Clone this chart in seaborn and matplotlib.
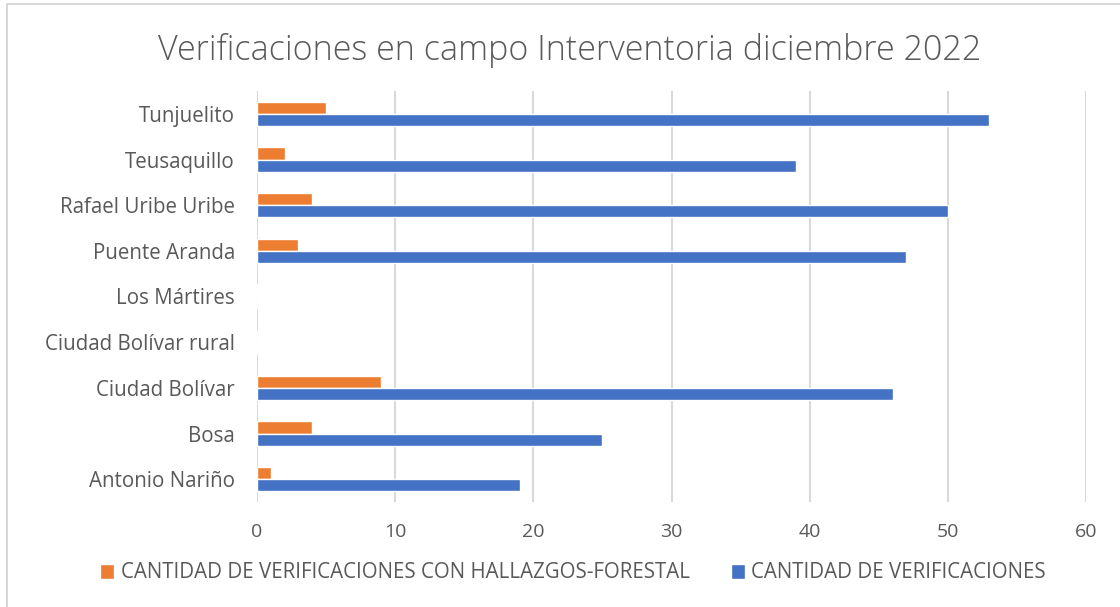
import matplotlib
matplotlib.use("Agg")
import matplotlib.pyplot as plt
import seaborn as sns
import pandas as pd
from matplotlib.patches import Rectangle

categories = ["Tunjuelito", "Teusaquillo", "Rafael Uribe Uribe", "Puente Aranda",
              "Los Mártires", "Ciudad Bolívar rural", "Ciudad Bolívar", "Bosa",
              "Antonio Nariño"]
hallazgos = [5, 2, 4, 3, 0, 0, 9, 4, 1]
verificaciones = [53, 39, 50, 47, 0, 0, 46, 25, 19]
series_names = ["CANTIDAD DE VERIFICACIONES CON HALLAZGOS-FORESTAL",
                "CANTIDAD DE VERIFICACIONES"]
colors = ["#ED7D31", "#4472C4"]
xticks = [0, 10, 20, 30, 40, 50, 60]
title = "Verificaciones en campo Interventoria diciembre 2022"

df = pd.DataFrame({
    "Localidad": categories * 2,
    "Valor": hallazgos + verificaciones,
    "Serie": [series_names[0]] * len(categories) + [series_names[1]] * len(categories),
})

sns.set_theme(style="white")
plt.rcParams["font.family"] = ["Open Sans", "DejaVu Sans"]

W, H = 1120, 607
fig = plt.figure(figsize=(W / 100, H / 100), dpi=100)
ax = fig.add_axes([257 / W, 1 - 502 / H, (1086 - 257) / W, (502 - 91) / H])

sns.barplot(data=df, y="Localidad", x="Valor", hue="Serie", order=categories,
            hue_order=series_names, palette=colors, orient="h", width=0.53,
            ax=ax, saturation=1, legend=True)

ax.set_xlim(0, 60)
ax.set_xticks(xticks)
ax.set_xticklabels([str(t) for t in xticks], fontsize=14, color="#595959")
ax.tick_params(axis="y", labelsize=14.8, labelcolor="#595959", length=0, pad=16)
ax.tick_params(axis="x", length=0, pad=15)
ax.set_xlabel("")
ax.set_ylabel("")
ax.grid(axis="x", color="#D9D9D9", linewidth=1.5)
ax.set_axisbelow(True)
for s in ax.spines.values():
    s.set_visible(False)

handles, labels = ax.get_legend_handles_labels()
ax.get_legend().remove()
fig.legend(handles, labels, loc="center", bbox_to_anchor=(573 / W, 1 - 573 / H),
           ncol=2, frameon=False, fontsize=14.8, labelcolor="#595959",
           handlelength=0.7, handleheight=0.7, handletextpad=0.3,
           columnspacing=2.0)

fig.text(570 / W, 1 - 50 / H, title, ha="center", va="center", fontsize=24.5,
         color="#595959", fontweight="light")

fig.patches.append(Rectangle((7 / W, -0.1), 1.2, 1 - 4 / H + 0.1,
                             transform=fig.transFigure, fill=False,
                             edgecolor="#D0D0D0", linewidth=1.2))

fig.savefig("out.png", dpi=100)
